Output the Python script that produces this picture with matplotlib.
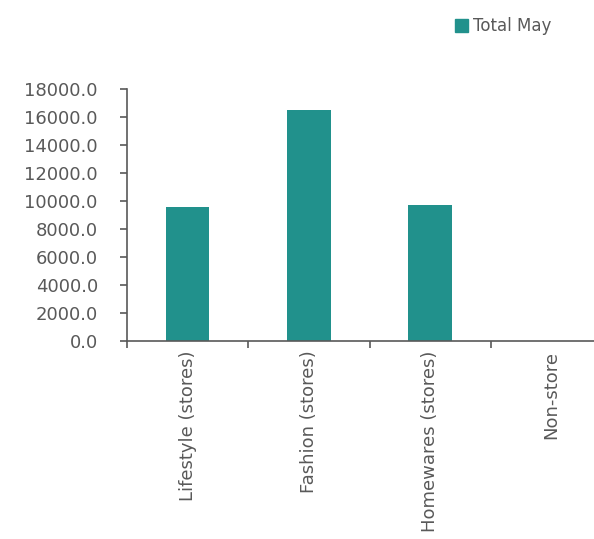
import numpy as np
import matplotlib.pyplot as plt
from matplotlib.patches import Patch

# data
categories = ["Lifestyle (stores)", "Fashion (stores)", "Homewares (stores)", "Non-store"]
total_may = [9600, 16500, 9750, 0]
y_ticks = [0, 2000, 4000, 6000, 8000, 10000, 12000, 14000, 16000, 18000]

grey = "#595959"
teal = "#21918c"

fig = plt.figure(figsize=(5.94, 5.39), dpi=100)
# axes runs off the right edge like the original
ax = fig.add_axes([127 / 594, 1 - 341 / 539, 485 / 594, 252 / 539])

x = np.arange(len(categories))
ax.bar(x, total_may, width=0.36, color=teal, zorder=2)

ax.set_xlim(-0.5, len(categories) - 0.5)
ax.set_ylim(0, 18000)
ax.set_yticks(y_ticks)
ax.set_yticklabels([f"{v:.1f}" for v in y_ticks], color=grey, fontsize=13)

# category boundaries carry the ticks, labels sit at centres
ax.set_xticks(np.arange(len(categories)) - 0.5)
ax.set_xticklabels([])
ax.set_xticks(x, minor=True)
ax.set_xticklabels(categories, minor=True, rotation=90, va="top", ha="center",
                   color=grey, fontsize=13)
ax.tick_params(axis="x", which="minor", length=0, pad=7)
ax.tick_params(axis="x", which="major", direction="out", length=5, color=grey, width=1.2)
ax.tick_params(axis="y", direction="out", length=5, color=grey, width=1.2, pad=16)

for side in ["top", "right"]:
    ax.spines[side].set_visible(False)
for side in ["left", "bottom"]:
    ax.spines[side].set_color(grey)
    ax.spines[side].set_linewidth(1.2)

fig.legend(handles=[Patch(color=teal, label="Total May")], loc="upper left",
           bbox_to_anchor=(440 / 594, 1 - 2 / 539), frameon=False, fontsize=12,
           handlelength=0.8, handleheight=0.8, handletextpad=0.3, labelcolor=grey)

plt.savefig("out.png", dpi=100)
